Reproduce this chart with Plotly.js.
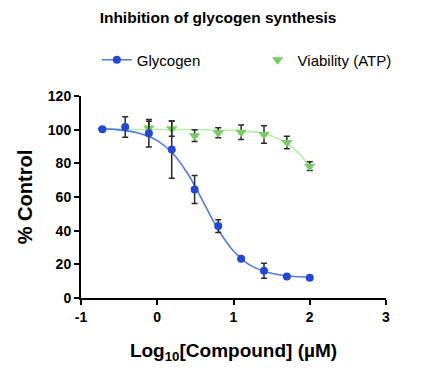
<!DOCTYPE html>
<html>
<head>
<meta charset="utf-8">
<script src="https://cdn.plot.ly/plotly-3.0.1.min.js"></script>
<style>html,body{margin:0;padding:0;background:#fff;}#chart{width:445px;height:371px;}</style>
</head>
<body>
<div id="chart"></div>
<script>
// log10 concentration (µM)
const logConc = [-0.72, -0.42, -0.11, 0.19, 0.49, 0.80, 1.10, 1.40, 1.70, 2.00];
// Glycogen % control and SD
const glycogen = [100.2, 101.6, 97.9, 88.2, 64.5, 42.7, 23.3, 16.2, 12.7, 12.1];
const glycogenErr = [0.5, 6.1, 8.2, 17.0, 8.3, 3.8, 1.0, 4.4, 0.8, 0.6];
// Viability (ATP) % control and SD
const viabX = [-0.11, 0.19, 0.49, 0.80, 1.10, 1.40, 1.70, 2.00];
const viability = [101.0, 100.6, 96.4, 98.2, 98.4, 97.1, 92.4, 78.3];
const viabilityErr = [4.0, 4.5, 3.5, 3.0, 4.3, 5.2, 3.7, 2.6];
// fitted curves
const fitX = [-0.78, -0.5, -0.25, 0, 0.2, 0.4, 0.5, 0.6, 0.7, 0.8, 0.9, 1.0, 1.2, 1.4, 1.6, 1.8, 2.0];
const glycogenFit = [100.6, 99.9, 98.0, 93.5, 86.1, 73.8, 65.9, 57.4, 48.7, 40.7, 33.7, 27.9, 20.0, 15.9, 13.8, 12.8, 12.4];
const viabFitX = [-0.78, 0, 0.5, 1.0, 1.2, 1.4, 1.5, 1.6, 1.7, 1.8, 1.9, 2.0];
const viabilityFit = [100.2, 100.1, 100.0, 99.6, 99.0, 97.7, 96.3, 94.4, 92.0, 88.5, 83.8, 78.0];
// axis ticks
const xTicks = [-1, 0, 1, 2, 3];
const yTicks = [0, 20, 40, 60, 80, 100, 120];

const blue = '#2348d6';
const blueLine = '#4f7de3';
const green = '#76cd62';
const greenLine = '#b4f2a6';
const errStyle = {type: 'data', visible: true, color: '#2a2a2a', thickness: 1.5, width: 3};
const fontFam = 'Liberation Sans, Arial, sans-serif';

const traces = [
  {x: viabFitX, y: viabilityFit, mode: 'lines', line: {color: greenLine, width: 1.6, shape: 'spline'}, showlegend: false, hoverinfo: 'skip'},
  {x: fitX, y: glycogenFit, mode: 'lines', line: {color: blueLine, width: 1.6, shape: 'spline'}, showlegend: false, hoverinfo: 'skip'},
  {x: viabX, y: viability, mode: 'markers', name: 'Viability (ATP)', showlegend: false,
   marker: {symbol: 'triangle-down', size: 10, color: green},
   error_y: Object.assign({array: viabilityErr}, errStyle)},
  {x: logConc, y: glycogen, mode: 'markers', name: 'Glycogen', showlegend: false,
   marker: {symbol: 'circle', size: 8, color: blue},
   error_y: Object.assign({array: glycogenErr}, errStyle)},
  {x: [null], y: [null], mode: 'lines+markers', name: 'Glycogen', legend: 'legend',
   line: {color: blueLine, width: 1.6}, marker: {symbol: 'circle', size: 8, color: blue}},
  {x: [null], y: [null], mode: 'markers', name: 'Viability (ATP)', legend: 'legend2',
   marker: {symbol: 'triangle-down', size: 10, color: green}}
];

const legendBase = {orientation: 'h', xanchor: 'left', y: 1.178, yanchor: 'middle',
                    font: {size: 15}, bgcolor: 'rgba(0,0,0,0)'};

const layout = {
  width: 445, height: 371,
  margin: {l: 81, r: 59, t: 96, b: 73},
  paper_bgcolor: '#fff', plot_bgcolor: '#fff',
  font: {family: fontFam, color: '#000'},
  title: {text: '<b>Inhibition of glycogen synthesis</b>', font: {size: 15.5}, x: 0.49, xanchor: 'center', y: 0.953, yanchor: 'middle'},
  showlegend: true,
  legend: Object.assign({x: 0.052}, legendBase),
  legend2: Object.assign({x: 0.579}, legendBase),
  xaxis: {range: [-1, 3], tickvals: xTicks, ticktext: xTicks.map(String), showgrid: false, zeroline: false,
          showline: true, linecolor: '#000', linewidth: 2, ticks: 'outside', ticklen: 5, tickwidth: 2, tickcolor: '#000',
          tickfont: {size: 14},
          title: {text: '<b>Log<sub>10</sub>[Compound] (µM)</b>', font: {size: 19}, standoff: 20}},
  yaxis: {range: [0, 120], tickvals: yTicks, showgrid: false, zeroline: false,
          showline: true, linecolor: '#000', linewidth: 2, ticks: 'outside', ticklen: 5, tickwidth: 2, tickcolor: '#000',
          tickfont: {size: 14}, title: {text: '<b>% Control</b>', font: {size: 20}, standoff: 10}}
};

Plotly.newPlot('chart', traces, layout, {displayModeBar: false, staticPlot: true}).then(function(){
  document.querySelectorAll('.xtick text, .ytick text').forEach(function(t){ t.style.fontWeight = 'bold'; });
});
</script>
</body>
</html>
